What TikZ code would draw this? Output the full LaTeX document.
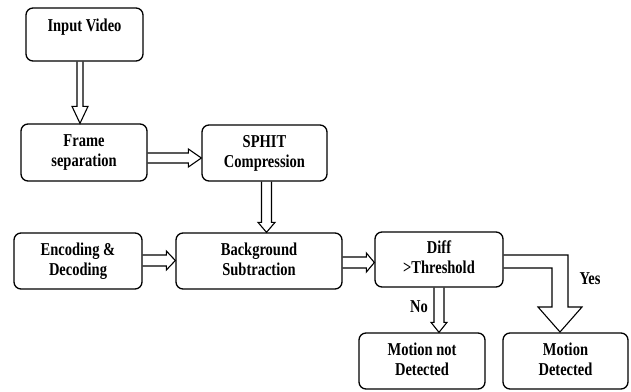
\documentclass[tikz,border=0pt]{standalone}
\usepackage{fontspec}
\setmainfont{Liberation Serif}
\usetikzlibrary{calc}
\tikzset{
  box/.style={draw, line width=1.3pt, rounded corners=7pt, fill=white, align=center,
    font=\bfseries\fontsize{14.5}{16}\selectfont},
  arr/.style={draw, line width=1.1pt, line join=miter},
  lbl/.style={font=\bfseries\fontsize{14.5}{16}\selectfont}
}
\newcommand\tallt[1]{\scalebox{1}[1.25]{\begin{tabular}{@{}c@{}}#1\end{tabular}}}
% hollow arrow pointing down: #1 start, #2 tip, #3 half shaft, #4 half head, #5 head length
\newcommand\hdown[5]{%
  \path[arr] let \p1=(#1), \p2=(#2) in
    (\x1-#3,\y1) -- (\x1-#3,\y2+#5) -- (\x1-#4,\y2+#5) -- (\x1,\y2)
    -- (\x1+#4,\y2+#5) -- (\x1+#3,\y2+#5) -- (\x1+#3,\y1);}
% hollow arrow pointing right
\newcommand\hright[5]{%
  \path[arr] let \p1=(#1), \p2=(#2) in
    (\x1,\y1+#3) -- (\x2-#5,\y1+#3) -- (\x2-#5,\y1+#4) -- (\x2,\y1)
    -- (\x2-#5,\y1-#4) -- (\x2-#5,\y1-#3) -- (\x1,\y1-#3);}
\begin{document}
\begin{tikzpicture}[x=1pt,y=-1pt]
\useasboundingbox (0,0) rectangle (631,391);
\fill[white] (0,0) rectangle (631,391);

\node[box, minimum width=117pt, minimum height=53pt] (iv) at (84.5,34.5) {};
\node[lbl] at ($(iv.center)+(0,-7)$) {\tallt{Input Video}};
\node[box, minimum width=126pt, minimum height=57pt] (fs) at (84,152.5) {\tallt{Frame\\separation}};
\node[box, minimum width=125pt, minimum height=56pt] (sp) at (264.5,153) {\tallt{SPHIT\\Compression}};
\node[box, minimum width=128pt, minimum height=56pt] (ed) at (78,261) {\tallt{Encoding \&\\Decoding}};
\node[box, minimum width=166pt, minimum height=56pt] (bs) at (259,261) {\tallt{Background\\Subtraction}};
\node[box, minimum width=128pt, minimum height=55pt] (dt) at (439,259.5) {\tallt{Diff\\>Threshold}};
\node[box, minimum width=126pt, minimum height=56pt] (mn) at (422,361) {\tallt{Motion not\\Detected}};
\node[box, minimum width=125pt, minimum height=56pt] (md) at (565.5,361) {\tallt{Motion\\Detected}};

% Input Video -> Frame separation
\hdown{$(iv.south)+(-4.5,0)$}{$(fs.north)+(-4,0)$}{3pt}{8pt}{17pt}
% Frame separation -> SPHIT
\hright{$(fs.east)+(0,5.5)$}{$(sp.west)+(0,5.5)$}{5pt}{9pt}{13pt}
% SPHIT -> Background
\hdown{$(sp.south)+(2,0)$}{$(bs.north)+(8,0)$}{5pt}{8.5pt}{10pt}
% Encoding -> Background
\hright{$(ed.east)+(0,-0.5)$}{$(bs.west)+(0,-0.5)$}{5.5pt}{9.5pt}{9pt}
% Background -> Diff
\hright{$(bs.east)+(0,1.5)$}{$(dt.west)+(0,3)$}{5.5pt}{9.5pt}{8pt}
% Diff -> Motion not detected (No)
\hdown{dt.south}{dt.south |- mn.north}{5pt}{8pt}{10pt}
\node[lbl] (no) at (419,308) {\tallt{No}};
% Diff -> Motion detected (Yes)
\coordinate (y1) at ($(dt.east)+(0,-4.5)$);
\coordinate (y2) at ($(dt.east)+(0,8.5)$);
\path[arr] (y1) -- (568,255) -- (568,307) -- (582,307) -- (560,332)
  -- (538,307) -- (552,307) -- (552,268) -- (y2);
\node[lbl] (yes) at (590,280) {\tallt{Yes}};
\end{tikzpicture}
\end{document}
